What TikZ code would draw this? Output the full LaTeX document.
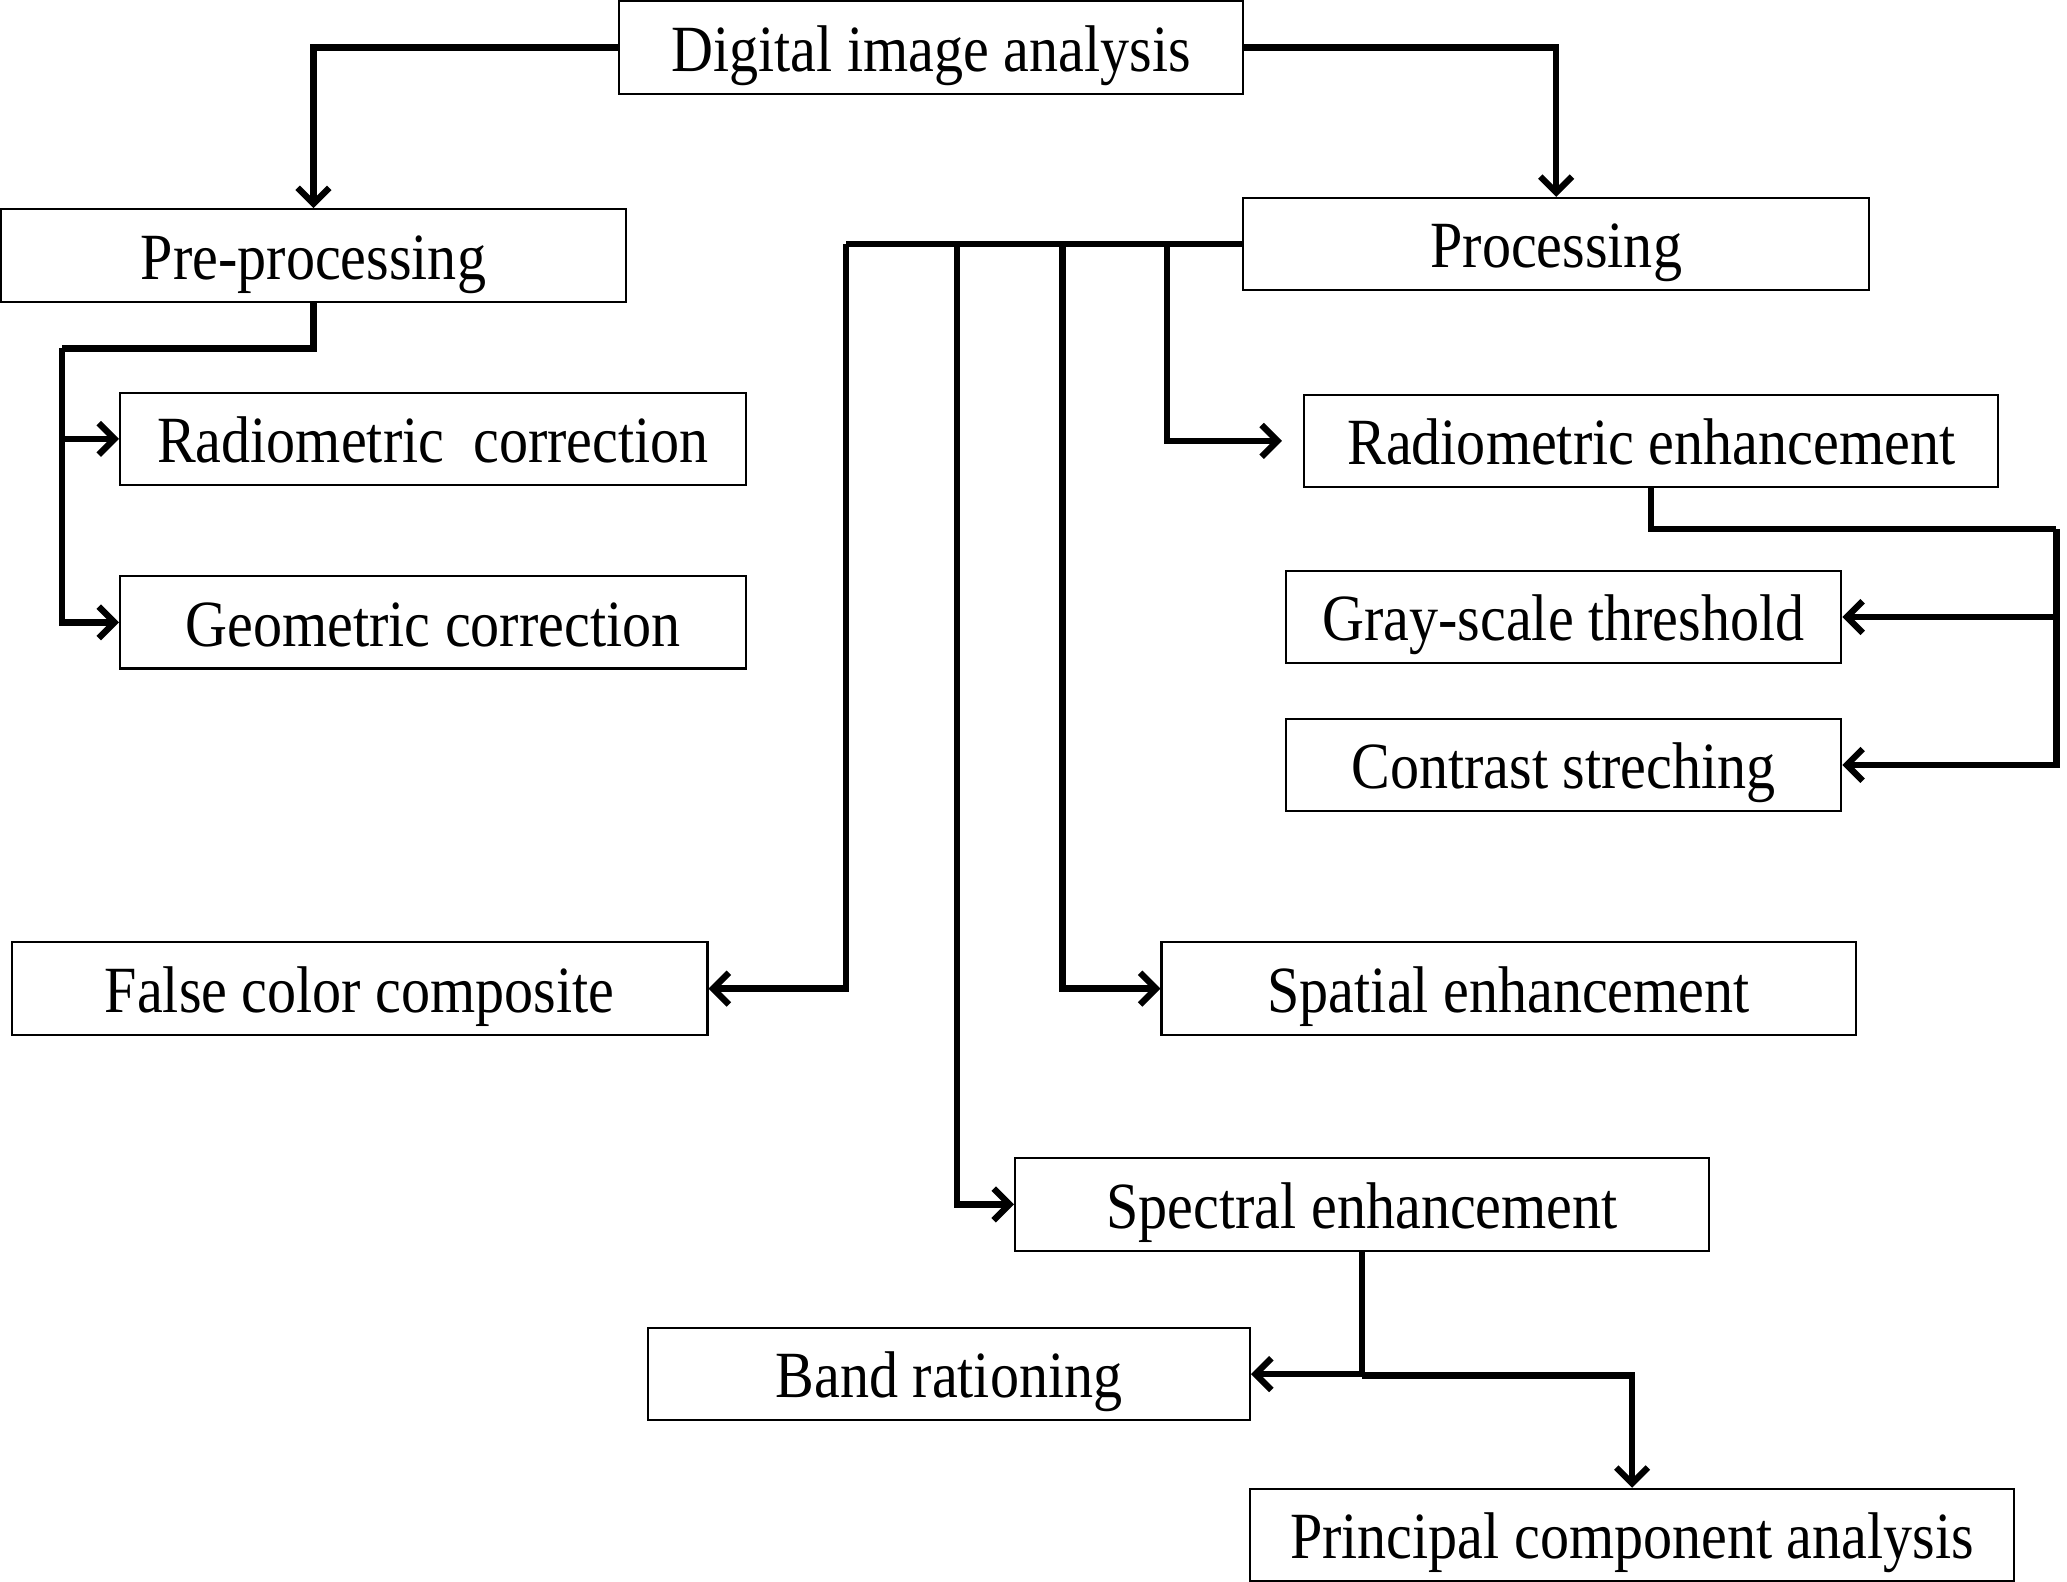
\documentclass[tikz,border=0pt]{standalone}
\usepackage{fontspec}
\setmainfont{Liberation Serif}[FakeStretch=0.88]
\usepackage{tikz}
\usetikzlibrary{arrows.meta}

\begin{document}
\begin{tikzpicture}[x=0.5pt,y=-0.5pt,>={Straight Barb[length=6pt,width=12pt]},
  box/.style={rectangle,draw,line width=0.8pt,minimum height=35pt,inner sep=0pt,
    text height=20pt,text depth=2pt,font=\fontsize{25}{30}\selectfont},
  link/.style={line width=2.4pt},
  arr/.style={link,->}]

  \useasboundingbox (0,0) rectangle (1566,1198);

  \foreach \name/\place/\bw/\txt in {
    {dia/(705.5,36)/236.5pt/Digital image analysis},
    {pre/(237.5,193.5)/236.5pt/Pre-processing},
    {proc/(1179,185)/237pt/Processing},
    {radcor/(328,332.5)/237pt/Radiometric\ \ correction},
    {geocor/(328,471.5)/237pt/Geometric correction},
    {radenh/(1251,334)/263pt/Radiometric enhancement},
    {gray/(1184.5,467.5)/210.5pt/Gray-scale threshold},
    {contrast/(1184.5,579.5)/210.5pt/Contrast streching},
    {false/(272.5,749)/263.5pt/False color composite},
    {spatial/(1143,749)/263pt/Spatial enhancement},
    {spectral/(1032,912.5)/263pt/Spectral enhancement},
    {band/(719,1041)/228pt/Band rationing},
    {pca/(1236.5,1163)/289.5pt/Principal component analysis}}
  \node[box,minimum width=\bw] (\name) at \place {\txt};

  % branching points
  \coordinate (pb) at (47,264);
  \coordinate (bus1) at (641,185);
  \coordinate (bus2) at (725,185);
  \coordinate (bus3) at (805,185);
  \coordinate (bus4) at (884,185);
  \coordinate (rb) at (1558,401);
  \coordinate (sb) at (1032,1042);

  \draw[arr] (dia.west) -| (pre.north);
  \draw[arr] (dia.east) -| (proc.north);

  \draw[link] (pre.south) |- (pb);
  \draw[arr] (pb) |- (radcor.west);
  \draw[arr] (pb) |- (geocor.west);

  \draw[link] (proc.west) -- (bus1);
  \draw[arr] (bus1) |- (false.east);
  \draw[arr] (bus2) |- (spectral.west);
  \draw[arr] (bus3) |- (spatial.west);
  \draw[arr,shorten >=8pt] (bus4) |- (radenh.west);

  \draw[link] (radenh.south) |- (rb);
  \draw[arr] (rb) |- (gray.east);
  \draw[arr] (rb) |- (contrast.east);

  \draw[arr] (spectral.south) |- (band.east);
  \draw[arr] (sb) -| (pca.north);
\end{tikzpicture}
\end{document}
